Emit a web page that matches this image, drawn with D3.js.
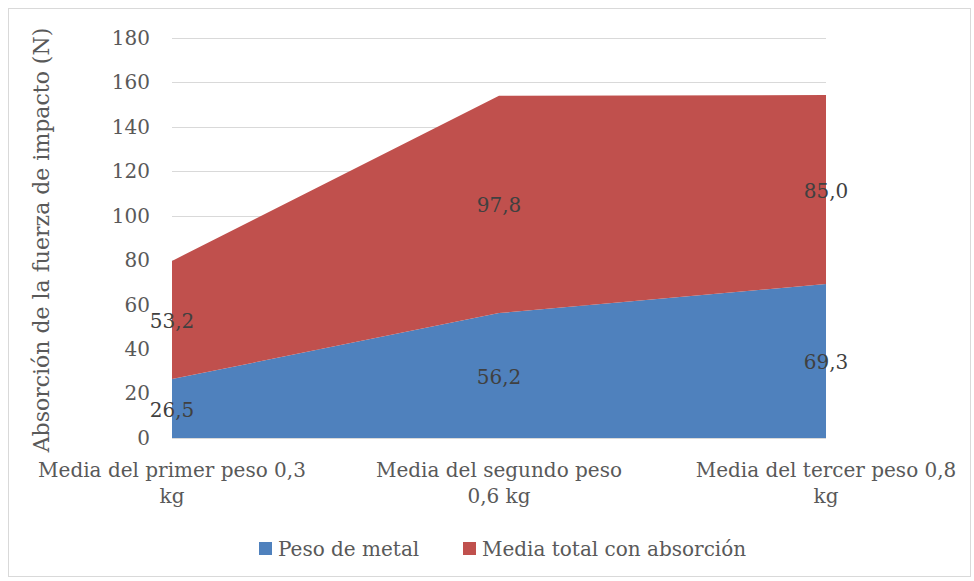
<!DOCTYPE html>
<html>
<head>
<meta charset="utf-8">
<script src="https://d3js.org/d3.v7.min.js"></script>
<style>
  body { margin: 0; background: #fff; }
  text { font-family: "DejaVu Serif", serif; fill: #595959; }
  .grid line { stroke: #d9d9d9; }
</style>
</head>
<body>
<script>
var categories = ['Media del primer peso 0,3 kg', 'Media del segundo peso 0,6 kg', 'Media del tercer peso 0,8 kg'];
var categoryLines = [['Media del primer peso 0,3', 'kg'], ['Media del segundo peso', '0,6 kg'], ['Media del tercer peso 0,8', 'kg']];
var seriesNames = ['Peso de metal', 'Media total con absorción'];
var pesoMetal = [26.5, 56.2, 69.3];
var mediaTotal = [53.2, 97.8, 85.0];
var yTicks = [0, 20, 40, 60, 80, 100, 120, 140, 160, 180];
var colours = ['#4F81BD', '#C0504D'];

var width = 974, height = 581;
var plotLeft = 172, plotRight = 826, plotTop = 38, plotBottom = 438;

var svg = d3.select('body').append('svg')
  .attr('width', width).attr('height', height);

svg.append('rect')
  .attr('x', 8.5).attr('y', 8.5)
  .attr('width', 962).attr('height', 568)
  .attr('fill', 'white').attr('stroke', '#d9d9d9');

var x = d3.scalePoint().domain(categories).range([plotLeft, plotRight]);
var y = d3.scaleLinear().domain([0, 180]).range([plotBottom, plotTop]);

var rows = categories.map(function(c, i) {
  return { cat: c, a: pesoMetal[i], b: mediaTotal[i] };
});
var stacked = d3.stack().keys(['a', 'b'])(rows);

// gridlines
svg.append('g').attr('class', 'grid')
  .selectAll('line').data(yTicks.slice(1)).enter().append('line')
  .attr('x1', plotLeft).attr('x2', plotRight)
  .attr('y1', function(d) { return Math.round(y(d)) + 0.5; })
  .attr('y2', function(d) { return Math.round(y(d)) + 0.5; });

var area = d3.area()
  .x(function(d) { return x(d.data.cat); })
  .y0(function(d) { return y(d[0]); })
  .y1(function(d) { return y(d[1]); });

svg.selectAll('path.area').data(stacked).enter().append('path')
  .attr('class', 'area')
  .attr('d', area)
  .attr('fill', function(d, i) { return colours[i]; });

// base axis line
svg.append('line')
  .attr('x1', plotLeft).attr('x2', plotRight)
  .attr('y1', plotBottom + 0.5).attr('y2', plotBottom + 0.5)
  .attr('stroke', '#d9d9d9');

// y axis labels
var yAxis = d3.axisLeft(y).tickValues(yTicks).tickSize(0).tickPadding(22);
var gy = svg.append('g').attr('transform', 'translate(' + plotLeft + ',0)').call(yAxis);
gy.select('.domain').remove();
gy.selectAll('text').style('font-size', '20px').style('font-family', '"DejaVu Serif", serif').attr('fill', '#595959');

// x axis labels
categories.forEach(function(c, i) {
  var t = svg.append('text')
    .attr('x', x(c)).attr('y', 477)
    .attr('text-anchor', 'middle')
    .style('font-size', '20px');
  categoryLines[i].forEach(function(line, j) {
    t.append('tspan').attr('x', x(c)).attr('dy', j === 0 ? 0 : 26).text(line);
  });
});

// data labels
stacked.forEach(function(s) {
  s.forEach(function(d) {
    svg.append('text')
      .attr('x', x(d.data.cat))
      .attr('y', y((d[0] + d[1]) / 2))
      .attr('dy', '0.4em')
      .attr('text-anchor', 'middle')
      .style('font-size', '20px')
      .style('fill', '#404040')
      .text(d3.format('.1f')(d[1] - d[0]).replace('.', ','));
  });
});

// y title
svg.append('text')
  .attr('transform', 'translate(49,' + 240 + ') rotate(-90)')
  .attr('text-anchor', 'middle')
  .style('font-size', '22px')
  .text('Absorción de la fuerza de impacto (N)');

// legend
var legendX = [259, 463];
seriesNames.forEach(function(n, i) {
  svg.append('rect')
    .attr('x', legendX[i]).attr('y', 542)
    .attr('width', 13).attr('height', 13)
    .attr('fill', colours[i]);
  svg.append('text')
    .attr('x', legendX[i] + 19).attr('y', 556)
    .style('font-size', '20px')
    .text(n);
});
</script>
</body>
</html>
